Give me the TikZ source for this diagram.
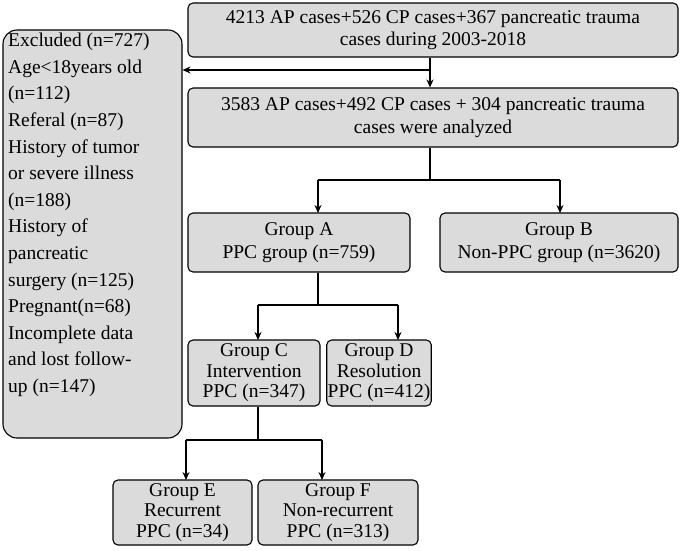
\documentclass[tikz,border=0pt]{standalone}
\usepackage{fontspec}
\setmainfont{Liberation Serif}
\usetikzlibrary{arrows.meta}
\begin{document}
\begin{tikzpicture}[x=1pt,y=-1pt,
 box/.style={draw,fill=gray!28,line width=1.1pt,rounded corners=5pt,align=center,inner sep=1pt,font=\fontsize{19.5}{22.5}\selectfont},
 arr/.style={line width=1.1pt,-{Stealth[length=8pt,width=7pt]}},
 ln/.style={line width=1.1pt}]
\useasboundingbox (0,0) rectangle (685,550);
\node[box,minimum width=490,minimum height=54] (top) at (433,30) {4213 AP cases+526 CP cases+367 pancreatic trauma\\cases during 2003-2018};
\node[box,minimum width=490,minimum height=59] (ana) at (433,117.5) {3583 AP cases+492 CP cases + 304 pancreatic trauma\\cases were analyzed};
\node[draw,fill=gray!28,line width=1.1pt,rounded corners=14pt,minimum width=179,minimum height=408] (exc) at (92.5,234) {};
\node[anchor=north west,align=left,inner sep=0pt,font=\fontsize{19.5}{26.6}\selectfont] (exct) at (8,33) {Excluded (n=727)\\Age<18years old\\(n=112)\\Referal (n=87)\\History of tumor\\or severe illness\\(n=188)\\History of\\pancreatic\\surgery (n=125)\\Pregnant(n=68)\\Incomplete data\\and lost follow-\\up (n=147)};
\node[box,minimum width=222,minimum height=59] (A) at (299,242.5) {Group A\\PPC group (n=759)};
\node[box,minimum width=238,minimum height=59] (B) at (559,242.5) {Group B\\Non-PPC group (n=3620)};
\node[box,minimum width=132,minimum height=66,font=\fontsize{19.5}{20.5}\selectfont] (C) at (254,373) {Group C\\Intervention\\PPC (n=347)};
\node[box,minimum width=102,minimum height=66,font=\fontsize{19.5}{20.5}\selectfont] (D) at (379,373) {Group D\\Resolution\\PPC (n=412)};
\node[box,minimum width=139,minimum height=65,font=\fontsize{19.5}{20.5}\selectfont] (E) at (182.5,512.5) {Group E\\Recurrent\\PPC (n=34)};
\node[box,minimum width=160,minimum height=65,font=\fontsize{19.5}{20.5}\selectfont] (F) at (338,512.5) {Group F\\Non-recurrent\\PPC (n=313)};
\coordinate (j1) at (430,70);
\draw[arr] (top.south -| j1) -- (ana.north -| j1);
\draw[arr] (j1) -- (exc.east |- j1);
\coordinate (j2) at (430,180);
\draw[ln] (ana.south -| j2) -- (j2);
\draw[ln] (318,180) -- (560,180);
\draw[arr] (318,180) -- (318,213);
\draw[arr] (560,180) -- (560,213);
\draw[ln] (A.south -| 318,0) -- (318,305);
\draw[ln] (258,305) -- (398,305);
\draw[arr] (258,305) -- (258,340);
\draw[arr] (398,305) -- (398,340);
\draw[ln] (C.south -| 258,0) -- (258,440);
\draw[ln] (186,440) -- (322,440);
\draw[arr] (186,440) -- (186,480);
\draw[arr] (322,440) -- (322,480);
\end{tikzpicture}
\end{document}
